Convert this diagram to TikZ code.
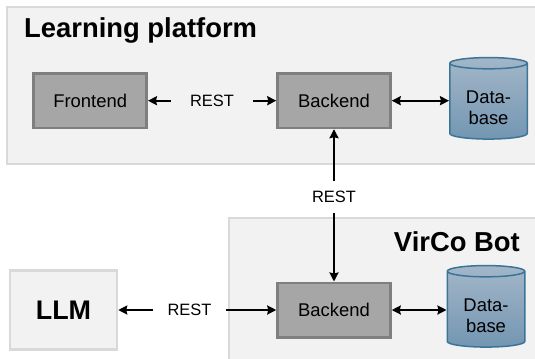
\documentclass[tikz,border=0pt]{standalone}
\usepackage{fontspec}
\setmainfont{Liberation Sans}
\usetikzlibrary{arrows.meta,shapes.geometric}
\definecolor{contfill}{HTML}{F2F2F2}
\definecolor{contline}{HTML}{D9D9D9}
\definecolor{boxfill}{HTML}{A6A6A6}
\definecolor{boxline}{HTML}{7F7F7F}
\definecolor{dbtop}{HTML}{A3B6C8}
\definecolor{dbbot}{HTML}{7396B2}
\definecolor{dbline}{HTML}{3A7597}
\begin{document}
\begin{tikzpicture}[x=1bp,y=-1bp,
 container/.style={draw=contline, fill=contfill, line width=2bp},
 comp/.style={draw=boxline, fill=boxfill, line width=2.5bp, minimum width=113bp, minimum height=54.5bp, font=\fontsize{18.5}{20}\selectfont, inner sep=0pt},
 dbase/.style={cylinder, shape border rotate=90, aspect=0.25, draw=dbline, line width=1.5bp, top color=dbtop, bottom color=dbbot, minimum width=77.5bp, minimum height=81.5bp, inner sep=0pt, align=center, font=\fontsize{18.5}{21.5}\selectfont},
 dbtext/.style={font=\fontsize{18.5}{21.5}\selectfont, align=center, inner sep=0pt},
 title/.style={font=\fontsize{27.5}{30}\selectfont\bfseries, inner sep=0pt},
 lbl/.style={font=\fontsize{16.5}{19}\selectfont, inner ysep=2bp},
 arr/.style={line width=2.3bp, -{Stealth[length=9bp,width=9bp,inset=1bp]}},
 darr/.style={line width=2.3bp, {Stealth[length=9bp,width=9bp,inset=1bp]}-{Stealth[length=9bp,width=9bp,inset=1bp]}}
]
\useasboundingbox (0,0) rectangle (535,358);
\clip (0,0) rectangle (535,358);
% containers
\draw[container] (7,7) rectangle (560,164);
\draw[container] (229,218) rectangle (560,380);
\node[title, anchor=base west] (t1) at (24,37.7) {Learning platform};
\node[title, anchor=base east] (t2) at (520,251.7) {VirCo Bot};
% components
\node[comp] (fe) at (90.2,100.7) {Frontend};
\node[comp] (bk1) at (334,100.7) {Backend};
\node[dbase] (db1) at (488.5,101.5) {\phantom{Data-}\\\phantom{base}};
\node[dbtext] (db1t) at (488.5,107.5) {Data-\\base};
\node[comp] (bk2) at (334,310) {Backend};
\node[dbase] (db2) at (486,309.5) {\phantom{Data-}\\\phantom{base}};
\node[dbtext] (db2t) at (486,315.5) {Data-\\base};
\node[draw=contline, fill=contfill, line width=2.5bp, minimum width=107bp, minimum height=79bp, font=\fontsize{27}{30}\selectfont\bfseries, inner sep=0pt] (llm) at (63.5,310) {LLM};
% labels
\node[lbl, inner xsep=19bp] (r1) at (212,100.7) {REST};
\node[lbl, inner ysep=10bp, inner xsep=2bp] (r2) at (334,197) {REST};
\node[lbl, inner xsep=14bp] (r3) at (189.5,310) {REST};
% connectors
\draw[arr] (r1.west) -- (fe.east);
\draw[arr] (r1.east) -- (bk1.west);
\draw[darr] (bk1.east) -- (bk1.east -| db1.west);
\draw[arr] (r2.north) -- (bk1.south);
\draw[arr] (r2.south) -- (bk2.north);
\draw[arr] (r3.west) -- (llm.east);
\draw[arr] (r3.east) -- (bk2.west);
\draw[darr] (bk2.east) -- (bk2.east -| db2.west);
\end{tikzpicture}
\end{document}
